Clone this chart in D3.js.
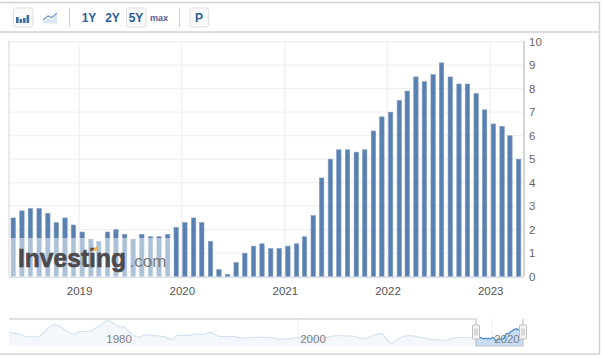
<!DOCTYPE html>
<html>
<head>
<meta charset="utf-8">
<script src="https://cdn.jsdelivr.net/npm/d3@7"></script>
<style>
  html, body { margin: 0; padding: 0; background: #fff; }
  svg { display: block; font-family: "Liberation Sans", Arial, sans-serif; }
  .y-axis text, .x-axis text { fill: #666; font-size: 11.5px; }
  .x-axis text { fill: #555; }
  .axis-line path, .axis-line line { display: none; }
</style>
</head>
<body>
<div id="chart"></div>
<script>
// release month of each reading
var releaseDates = [
  "2018-05-12","2018-06-12","2018-07-12","2018-08-12","2018-09-12","2018-10-12","2018-11-12","2018-12-12",
  "2019-01-12","2019-02-12","2019-03-12","2019-04-12","2019-05-12","2019-06-12","2019-07-12","2019-08-12","2019-09-12","2019-10-12","2019-11-12","2019-12-12",
  "2020-01-12","2020-02-12","2020-03-12","2020-04-12","2020-05-12","2020-06-12","2020-07-12","2020-08-12","2020-09-12","2020-10-12","2020-11-12","2020-12-12",
  "2021-01-12","2021-02-12","2021-03-12","2021-04-12","2021-05-12","2021-06-12","2021-07-12","2021-08-12","2021-09-12","2021-10-12","2021-11-12","2021-12-12",
  "2022-01-12","2022-02-12","2022-03-12","2022-04-12","2022-05-12","2022-06-12","2022-07-12","2022-08-12","2022-09-12","2022-10-12","2022-11-12","2022-12-12",
  "2023-01-12","2023-02-12","2023-03-12","2023-04-12"];
var rateValues = [
  2.5,2.8,2.9,2.9,2.7,2.3,2.5,2.2,
  1.9,1.6,1.5,1.9,2.0,1.8,1.6,1.8,1.7,1.7,1.8,2.1,
  2.3,2.5,2.3,1.5,0.3,0.1,0.6,1.0,1.3,1.4,1.2,1.2,
  1.3,1.4,1.7,2.6,4.2,5.0,5.4,5.4,5.3,5.4,6.2,6.8,
  7.0,7.5,7.9,8.5,8.3,8.6,9.1,8.5,8.2,8.2,7.8,7.1,
  6.5,6.4,6.0,5.0];
var yTicks = [0,1,2,3,4,5,6,7,8,9,10];
var yearTicks = ["2019","2020","2021","2022","2023"];

// navigator overview, decimal year / value
var navYears = [1970.2,1971.3,1972.2,1973.1,1973.6,1974.4,1974.9,1975.5,1976.3,1977.0,1977.5,1978.6,1979.1,1979.8,1980.3,1981.0,1981.5,1982.0,1982.5,1983.0,1983.6,1984.2,1985.1,1986.3,1986.8,1987.2,1987.5,1988.9,1989.6,1990.1,1990.4,1990.9,1992.0,1993.3,1994.4,1995.4,1996.8,1998.2,1998.9,2000.2,2001.5,2002.5,2004.0,2005.5,2006.7,2008.6,2009.6,2010.5,2011.5,2012.9,2014.9,2016.3,2017.9];
var navValues = [6.3,4.8,2.9,2.9,4.8,10.4,12.1,10.4,6.3,4.8,6.8,7.0,9.2,12.1,14.8,12.9,10.4,10.4,7.2,4.4,2.6,4.4,3.9,3.1,1.4,1.4,3.9,4.1,5.1,4.6,5.1,6.3,3.1,3.1,2.1,2.6,2.6,1.4,1.4,2.6,2.2,2.2,3.9,3.6,1.9,5.3,-2.0,2.2,3.9,2.2,0.5,2.2,2.7];
var navTicks = [1980, 2000, 2020];
var rangeButtons = ["1Y", "2Y", "5Y"];

var parseDate = d3.timeParse("%Y-%m-%d");
var width = 602, height = 358;

var svg = d3.select("#chart").append("svg")
    .attr("width", width)
    .attr("height", height);

// frame
var frameColor = "#d2d2d2";
svg.append("line").attr("x1", 0).attr("x2", 600).attr("y1", 2.5).attr("y2", 2.5).attr("stroke", frameColor).attr("stroke-width", 1.5);
svg.append("line").attr("x1", 0).attr("x2", 600).attr("y1", 32).attr("y2", 32).attr("stroke", frameColor).attr("stroke-width", 1.5);
svg.append("line").attr("x1", 0).attr("x2", 600).attr("y1", 354).attr("y2", 354).attr("stroke", frameColor).attr("stroke-width", 1.5);
svg.append("line").attr("x1", 599.5).attr("x2", 599.5).attr("y1", 2).attr("y2", 354).attr("stroke", frameColor).attr("stroke-width", 1.5);

// toolbar
var toolbar = svg.append("g");
function box(x, w) {
    toolbar.append("rect")
        .attr("x", x).attr("y", 8).attr("width", w).attr("height", 19).attr("rx", 2)
        .attr("fill", "#fafafa").attr("stroke", "#e0e0e0").attr("stroke-width", 1);
}
box(13.5, 19.5);
box(126.5, 19.5);
box(190, 18.5);

var barIcon = [[16, 6], [19.5, 4], [23, 5], [26.5, 8]];
barIcon.forEach(function (b) {
    toolbar.append("rect").attr("x", b[0]).attr("y", 23 - b[1]).attr("width", 2.6).attr("height", b[1]).attr("fill", "#3f6ea3");
});
toolbar.append("path")
    .attr("d", "M43,22 L48,18 L52,19.5 L57,14.5 L57,23.5 L43,23.5 Z")
    .attr("fill", "#dfe8f2");
toolbar.append("path")
    .attr("d", "M43,20 L48,16 L52,17.5 L57,13")
    .attr("fill", "none").attr("stroke", "#6f9ac4").attr("stroke-width", 1.2);

[69.5, 179.5].forEach(function (x) {
    toolbar.append("line").attr("x1", x).attr("x2", x).attr("y1", 8).attr("y2", 27).attr("stroke", "#d0d0d0");
});

var buttonX = d3.scalePoint().domain(rangeButtons).range([89, 136]);
toolbar.selectAll("text.range")
    .data(rangeButtons)
    .enter().append("text")
    .attr("class", "range")
    .attr("x", function (d) { return buttonX(d); })
    .attr("y", 22)
    .attr("text-anchor", "middle")
    .attr("font-size", "12px")
    .attr("font-weight", "bold")
    .attr("fill", "#2b5f9c")
    .text(function (d) { return d; });
toolbar.append("text").attr("x", 159).attr("y", 21).attr("text-anchor", "middle")
    .attr("font-size", "9px").attr("font-weight", "bold").attr("fill", "#5b5a97").text("max");
toolbar.append("text").attr("x", 199).attr("y", 22).attr("text-anchor", "middle")
    .attr("font-size", "12px").attr("font-weight", "bold").attr("fill", "#2b5f9c").text("P");

// main scales
var plotLeft = 9, plotRight = 524, plotTop = 41.7, plotBottom = 276.7;
var x = d3.scaleTime()
    .domain([new Date(2018, 3, 27), new Date(2023, 4, 1)])
    .range([plotLeft, plotRight]);
var y = d3.scaleLinear().domain([0, 10]).range([plotBottom, plotTop]);
var tickDates = yearTicks.map(function (d) { return new Date(+d, 0, 1); });

// grid
svg.append("g")
    .selectAll("line")
    .data(yTicks.slice(1))
    .enter().append("line")
    .attr("x1", plotLeft).attr("x2", plotRight)
    .attr("y1", function (d) { return y(d); })
    .attr("y2", function (d) { return y(d); })
    .attr("stroke", "#f0f0f0").attr("stroke-width", 1.3);
svg.append("g")
    .selectAll("line")
    .data(tickDates)
    .enter().append("line")
    .attr("x1", function (d) { return x(d); })
    .attr("x2", function (d) { return x(d); })
    .attr("y1", plotTop).attr("y2", plotBottom)
    .attr("stroke", "#f0f0f0").attr("stroke-width", 1.3);

// bars
svg.append("g")
    .selectAll("rect")
    .data(rateValues)
    .enter().append("rect")
    .attr("x", function (d, i) { return x(parseDate(releaseDates[i])) - 2.2; })
    .attr("y", function (d) { return y(d); })
    .attr("width", 4.4)
    .attr("height", function (d) { return plotBottom - y(d); })
    .attr("fill", "#5980b0")
    .attr("stroke", "#7d9cc2")
    .attr("stroke-width", 0.6);

// axis lines
svg.append("line").attr("x1", plotLeft).attr("x2", plotLeft).attr("y1", plotTop - 1).attr("y2", plotBottom).attr("stroke", "#dcdcdc").attr("stroke-width", 1.2);
svg.append("line").attr("x1", plotRight).attr("x2", plotRight).attr("y1", plotTop - 1).attr("y2", plotBottom).attr("stroke", "#c4c4c4").attr("stroke-width", 1.4);
svg.append("line").attr("x1", plotLeft).attr("x2", plotRight).attr("y1", plotBottom + 0.5).attr("y2", plotBottom + 0.5).attr("stroke", "#c9d3e0").attr("stroke-width", 1.3);

svg.append("g")
    .attr("class", "y-axis axis-line")
    .attr("transform", "translate(" + plotRight + ",0)")
    .call(d3.axisRight(y).tickValues(yTicks).tickSize(0).tickPadding(5).tickFormat(d3.format("d")));

svg.append("g")
    .attr("class", "x-axis axis-line")
    .attr("transform", "translate(0," + (plotBottom + 7) + ")")
    .call(d3.axisBottom(x).tickValues(tickDates).tickSize(0).tickPadding(3).tickFormat(d3.timeFormat("%Y")));

// Investing.com watermark
svg.append("rect")
    .attr("x", plotLeft + 0.5).attr("y", 238).attr("width", 164.5).attr("height", 39)
    .attr("fill", "#fff").attr("opacity", 0.5);
svg.append("text")
    .attr("transform", "translate(18,266.7) scale(1,1.08)")
    .attr("font-size", "24.6px").attr("font-weight", "bold")
    .attr("fill", "#4b4b4d")
    .attr("stroke", "#4b4b4d").attr("stroke-width", 0.6)
    .text("Investing");
svg.append("text")
    .attr("x", 129.5).attr("y", 266.7)
    .attr("font-size", "17px")
    .attr("fill", "#77787b")
    .text(".com");
svg.append("path")
    .attr("d", "M92.5,250 L97,246 L97.5,250.5 L93,251.5 Z")
    .attr("fill", "#f6b546");

// navigator
var navTop = 319, navBottom = 346, selStart = 476, selEnd = 523;
var navX = d3.scaleLinear().domain([1970.2, 2023.2]).range([plotLeft, 523]);
var navY = d3.scaleLinear().domain([-3.7, 14.8]).range([navBottom, 320.7]);

function decimalYear(s) {
    var d = parseDate(s);
    return d.getFullYear() + (d.getMonth() + 0.4) / 12;
}
var navPoints = navYears.map(function (d, i) { return [d, navValues[i]]; })
    .concat(releaseDates.map(function (d, i) { return [decimalYear(d), rateValues[i]]; }));
var navArea = d3.area().x(function (d) { return navX(d[0]); }).y0(navBottom).y1(function (d) { return navY(d[1]); }).curve(d3.curveMonotoneX);
var navLine = d3.line().x(function (d) { return navX(d[0]); }).y(function (d) { return navY(d[1]); }).curve(d3.curveMonotoneX);

svg.append("g")
    .selectAll("line")
    .data(navTicks)
    .enter().append("line")
    .attr("x1", function (d) { return navX(d); })
    .attr("x2", function (d) { return navX(d); })
    .attr("y1", navTop).attr("y2", navBottom)
    .attr("stroke", "#f0f0f0");

var clipOut = svg.append("clipPath").attr("id", "navOut");
clipOut.append("rect").attr("x", plotLeft).attr("y", navTop).attr("width", selStart - plotLeft).attr("height", 30);
var clipIn = svg.append("clipPath").attr("id", "navIn");
clipIn.append("rect").attr("x", selStart).attr("y", navTop).attr("width", selEnd - selStart).attr("height", 30);

svg.append("path").datum(navPoints).attr("d", navArea).attr("fill", "#f4f8fd").attr("clip-path", "url(#navOut)");
svg.append("path").datum(navPoints).attr("d", navLine).attr("fill", "none").attr("stroke", "#d5e3f1").attr("stroke-width", 1.2).attr("clip-path", "url(#navOut)");
svg.append("path").datum(navPoints).attr("d", navArea).attr("fill", "#c6ddf6").attr("clip-path", "url(#navIn)");
svg.append("path").datum(navPoints).attr("d", navLine).attr("fill", "none").attr("stroke", "#5a8fc4").attr("stroke-width", 1.4).attr("clip-path", "url(#navIn)");

svg.append("path")
    .attr("d", "M" + plotLeft + "," + navTop + " H" + selStart + " V" + navBottom + " H" + selEnd + " V" + navTop)
    .attr("fill", "none").attr("stroke", "#c4c4c4").attr("stroke-width", 1.2);

svg.append("g")
    .selectAll("text")
    .data(navTicks)
    .enter().append("text")
    .attr("x", function (d) { return navX(d) + 15; })
    .attr("y", 343)
    .attr("text-anchor", "middle")
    .attr("font-size", "11.5px")
    .attr("fill", "#808080")
    .text(function (d) { return d; });

[selStart, selEnd].forEach(function (hx) {
    var h = svg.append("g").attr("transform", "translate(" + hx + ",332)");
    h.append("rect").attr("x", -3.5).attr("y", -7).attr("width", 7).attr("height", 14).attr("rx", 1)
        .attr("fill", "#f4f4f4").attr("stroke", "#bdbdbd");
    h.append("line").attr("x1", -1).attr("x2", -1).attr("y1", -3.5).attr("y2", 3.5).attr("stroke", "#bdbdbd");
    h.append("line").attr("x1", 1).attr("x2", 1).attr("y1", -3.5).attr("y2", 3.5).attr("stroke", "#bdbdbd");
});
</script>
</body>
</html>
